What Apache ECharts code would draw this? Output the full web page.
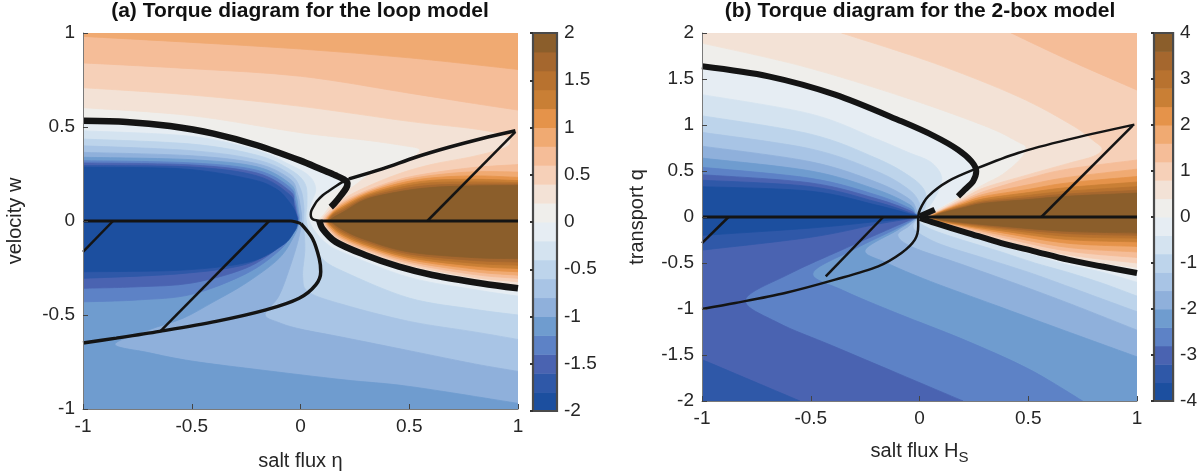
<!DOCTYPE html>
<html><head><meta charset="utf-8">
<script src="https://cdn.jsdelivr.net/npm/echarts@6/dist/echarts.min.js"></script>
<style>html,body{margin:0;padding:0;background:#fff}#c{width:1200px;height:476px}</style>
</head><body><div id="c"></div>
<script>
// ---------- colour bands (shared) ----------
const BAND_COLORS = ['#1c4f9f','#2f58a8','#4a63b1','#5d82c6','#6f9ccf','#8fb0db','#a8c4e5','#bdd4eb','#d4e3f0','#e6edf3',
  '#efeeeb','#f3e2d6','#f6d0b8','#f5bd98','#f0aa72','#e5934a','#c97f35','#b8722f','#a5672e','#8b5e2b'];
const A_LEVELS = [-2,-1.8,-1.6,-1.4,-1.2,-1,-0.8,-0.6,-0.4,-0.2,0,0.2,0.4,0.6,0.8,1,1.2,1.4,1.6,1.8,2];
const B_LEVELS = [-4,-3.6,-3.2,-2.8,-2.4,-2,-1.6,-1.2,-0.8,-0.4,0,0.4,0.8,1.2,1.6,2,2.4,2.8,3.2,3.6,4];

// ---------- panel (a): contour lines of the torque field [eta, w] ----------
const A_T02 = [[-1,0.603],[-0.5,0.56],[0,0.47],[0.3,0.43],[0.48,0.40],[0.545,0.383],[0.53,0.35],[0.45,0.31],[0.33,0.255],[0.25,0.19],[0.2,0.15],[0.15,0.1],[0.11,0.04],[0.085,0],[0.1,-0.04],[0.15,-0.088],[0.2,-0.125],[0.3,-0.172],[0.5,-0.245],[0.8,-0.315],[1,-0.34]];
const A_T04 = [[-1,0.709],[-0.5,0.67],[0,0.61],[0.5,0.53],[0.8,0.49],[0.93,0.46],[0.965,0.43],[0.94,0.39],[0.8,0.345],[0.6,0.3],[0.45,0.25],[0.3,0.18],[0.2,0.12],[0.15,0.075],[0.1,0],[0.15,-0.078],[0.2,-0.115],[0.3,-0.163],[0.5,-0.235],[0.8,-0.3],[1,-0.323]];
const A_T06_TOP = [[-1,0.841],[-0.5,0.81],[0,0.77],[0.5,0.68],[0.8,0.625],[1,0.59]];
const A_T06 = [[1,0.30],[0.8,0.285],[0.6,0.255],[0.45,0.22],[0.3,0.16],[0.2,0.105],[0.15,0.06],[0.108,0],[0.15,-0.068],[0.2,-0.106],[0.3,-0.154],[0.5,-0.225],[0.8,-0.285],[1,-0.305]];
const A_T08_TOP = [[-1,0.982],[-0.5,0.95],[0,0.915],[0.5,0.868],[1,0.806]];
const A_T08 = [[1,0.26],[0.8,0.262],[0.6,0.242],[0.45,0.21],[0.3,0.152],[0.2,0.096],[0.15,0.054],[0.115,0],[0.15,-0.058],[0.2,-0.097],[0.3,-0.145],[0.5,-0.215],[0.8,-0.27],[1,-0.288]];
const A_T10 = [[1,0.232],[0.8,0.24],[0.6,0.229],[0.45,0.199],[0.3,0.145],[0.2,0.087],[0.15,0.048],[0.12,0],[0.15,-0.048],[0.2,-0.088],[0.3,-0.136],[0.5,-0.205],[0.8,-0.255],[1,-0.27]];
const A_T12 = [[1,0.215],[0.8,0.222],[0.6,0.216],[0.45,0.188],[0.3,0.137],[0.2,0.078],[0.15,0.042],[0.125,0],[0.15,-0.038],[0.2,-0.078],[0.3,-0.127],[0.5,-0.195],[0.8,-0.24],[1,-0.253]];
const A_T14 = [[1,0.204],[0.8,0.208],[0.6,0.203],[0.45,0.177],[0.3,0.13],[0.2,0.069],[0.15,0.037],[0.128,0],[0.15,-0.03],[0.2,-0.069],[0.3,-0.118],[0.5,-0.185],[0.8,-0.225],[1,-0.235]];
const A_T16 = [[1,0.196],[0.8,0.196],[0.6,0.19],[0.45,0.166],[0.3,0.122],[0.2,0.06],[0.15,0.031],[0.132,0],[0.15,-0.02],[0.2,-0.06],[0.3,-0.109],[0.5,-0.175],[0.8,-0.21],[1,-0.218]];
const A_T18 = [[1,0.189],[0.8,0.187],[0.6,0.178],[0.45,0.155],[0.3,0.115],[0.2,0.05],[0.15,0.018],[0.135,0],[0.15,-0.012],[0.2,-0.05],[0.3,-0.1],[0.5,-0.165],[0.8,-0.195],[1,-0.2]];
const A_T00 = [[-1,0.533],[-0.8,0.527],[-0.6,0.505],[-0.4,0.465],[-0.2,0.403],[0,0.321],[0.1,0.272],[0.16,0.243],[0.2,0.221],[0.218,0.205],[0.17,0.175],[0.11,0.135],[0.065,0.083],[0.047,0.034],[0.06,0.008],[0.086,0],[0.101,-0.041],[0.162,-0.111],[0.3,-0.182],[0.453,-0.243],[0.606,-0.287],[0.835,-0.332],[1,-0.358]];
const A_TM02 = [[-1,0.48],[-0.5,0.45],[-0.2,0.375],[-0.05,0.3],[0.04,0.24],[0.07,0.17],[0.05,0.1],[0.035,0.04],[0.04,0],[0.07,-0.06],[0.12,-0.12],[0.2,-0.17],[0.5,-0.3],[0.8,-0.365],[1,-0.40]];
const A_TM04 = [[-1,0.436],[-0.5,0.409],[-0.2,0.35],[-0.05,0.275],[0.02,0.2],[0.03,0.1],[0.025,0.03],[0.03,-0.02],[0.05,-0.1],[0.1,-0.2],[0.2,-0.27],[0.5,-0.41],[0.8,-0.47],[1,-0.50]];
const A_TM06 = [[-1,0.40],[-0.5,0.374],[-0.2,0.325],[-0.05,0.25],[0,0.17],[0.015,0.08],[0.015,0.02],[0.015,-0.03],[0.02,-0.15],[0.01,-0.3],[0.04,-0.38],[0.2,-0.446],[0.5,-0.534],[0.8,-0.59],[1,-0.63]];
const A_TM08 = [[-1,0.365],[-0.5,0.347],[-0.2,0.305],[-0.05,0.225],[-0.015,0.15],[0,0.07],[0.005,0],[-0.01,-0.1],[-0.05,-0.25],[-0.1,-0.4],[-0.163,-0.497],[-0.1,-0.54],[0,-0.575],[0.2,-0.62],[0.5,-0.69],[0.8,-0.76],[1,-0.80]];
const A_TM10 = [[-1,0.339],[-0.5,0.326],[-0.2,0.288],[-0.05,0.2],[-0.02,0.13],[-0.01,0.06],[-0.005,0],[-0.03,-0.08],[-0.1,-0.2],[-0.25,-0.33],[-0.4,-0.43],[-0.54,-0.517],[-0.7,-0.58],[-0.853,-0.656],[-0.7,-0.70],[-0.5,-0.745],[-0.2,-0.79],[0.2,-0.845],[0.5,-0.88],[1,-0.97]];
const A_TM12 = [[-1,0.321],[-0.5,0.309],[-0.2,0.27],[-0.05,0.18],[-0.025,0.11],[-0.015,0.05],[-0.01,0],[-0.04,-0.07],[-0.1,-0.16],[-0.25,-0.28],[-0.5,-0.39],[-0.75,-0.42],[-1,-0.43]];
const A_TM14 = [[-1,0.309],[-0.5,0.298],[-0.2,0.255],[-0.05,0.16],[-0.03,0.1],[-0.018,0.04],[-0.013,0],[-0.045,-0.065],[-0.1,-0.14],[-0.25,-0.25],[-0.5,-0.33],[-0.75,-0.35],[-1,-0.358]];
const A_TM16 = [[-1,0.295],[-0.5,0.287],[-0.2,0.24],[-0.05,0.14],[-0.03,0.08],[-0.02,0.03],[-0.015,-0.005],[-0.05,-0.07],[-0.1,-0.13],[-0.25,-0.23],[-0.55,-0.28],[-1,-0.305]];
const A_TM18 = [[-1,0.286],[-0.541,0.277],[-0.235,0.224],[-0.113,0.171],[-0.052,0.101],[-0.021,0.039],[-0.014,-0.014],[-0.029,-0.058],[-0.083,-0.129],[-0.235,-0.217],[-0.541,-0.261],[-1,-0.27]];

// ---------- panel (a): black curves ----------
const A_THICK_UP = [[-1,0.533],[-0.8,0.527],[-0.6,0.505],[-0.4,0.465],[-0.2,0.403],[0,0.321],[0.1,0.272],[0.16,0.243],[0.2,0.221],[0.216,0.2],[0.21,0.175],[0.185,0.135],[0.155,0.092],[0.139,0.074]];
const A_THIN_MID = [[0.223,0.224],[0.19,0.205],[0.162,0.185],[0.13,0.16],[0.101,0.136],[0.075,0.105],[0.063,0.083],[0.05,0.055],[0.047,0.034],[0.05,0.018],[0.058,0.009],[0.072,0.004],[0.086,0.002]];
const A_THICK_LOW = [[0.086,0.004],[0.101,-0.041],[0.162,-0.111],[0.3,-0.182],[0.453,-0.243],[0.606,-0.287],[0.835,-0.332],[1,-0.358]];
const A_DOT_UP = [[0.223,0.224],[0.376,0.277],[0.529,0.339],[0.682,0.392],[0.835,0.439],[0.988,0.48]];
const A_DOT_LOW = [[0.002,-0.014],[0.055,-0.093],[0.086,-0.199],[0.093,-0.27],[0.07,-0.34],[-0.006,-0.411],[-0.159,-0.473],[-0.388,-0.534],[-0.648,-0.587],[-0.847,-0.623],[-1,-0.649]];
const A_HLINE_L = [[-1,0],[-0.044,0],[0.002,-0.014]];
const A_HLINE_R = [[0.086,0],[1,0]];
const A_SLANT_1 = [[-0.862,0],[-1,-0.164]];
const A_SLANT_2 = [[-0.144,0],[-0.645,-0.587]];
const A_SLANT_3 = [[0.583,0],[0.988,0.474]];

// ---------- panel (b): contour lines [H_S, q] ----------
const B_T04 = [[-1,1.89],[-0.54,1.64],[-0.08,1.31],[0.3,0.99],[0.45,0.82],[0.49,0.75],[0.46,0.62],[0.38,0.46],[0.3,0.36],[0.2,0.23],[0.15,0.16],[0.08,0.075],[0.025,0],[0.07,-0.055],[0.2,-0.146],[0.376,-0.265],[0.68,-0.44],[1,-0.55]];
const B_T08 = [[-0.358,2],[0.07,1.67],[0.453,1.31],[0.7,1.0],[0.8,0.83],[0.84,0.74],[0.8,0.66],[0.68,0.58],[0.5,0.46],[0.3,0.32],[0.2,0.2],[0.1,0.08],[0.035,0],[0.07,-0.05],[0.2,-0.133],[0.376,-0.245],[0.68,-0.41],[1,-0.5]];
const B_T12_TOP = [[0.422,2],[0.682,1.71],[1,1.38]];
const B_T12 = [[1,0.62],[0.68,0.52],[0.5,0.42],[0.3,0.28],[0.2,0.18],[0.1,0.072],[0.04,0],[0.1,-0.06],[0.2,-0.12],[0.376,-0.22],[0.68,-0.37],[1,-0.44]];
const B_T16 = [[1,0.52],[0.68,0.43],[0.5,0.35],[0.3,0.25],[0.2,0.165],[0.1,0.066],[0.045,0],[0.1,-0.055],[0.2,-0.108],[0.376,-0.195],[0.68,-0.33],[1,-0.38]];
const B_T20 = [[1,0.44],[0.68,0.37],[0.5,0.3],[0.3,0.225],[0.2,0.15],[0.1,0.06],[0.05,0],[0.1,-0.05],[0.2,-0.097],[0.376,-0.17],[0.68,-0.285],[1,-0.32]];
const B_T24 = [[1,0.38],[0.68,0.32],[0.5,0.265],[0.3,0.2],[0.2,0.135],[0.1,0.055],[0.055,0],[0.1,-0.045],[0.2,-0.087],[0.376,-0.15],[0.68,-0.245],[1,-0.27]];
const B_T28 = [[1,0.33],[0.68,0.28],[0.5,0.235],[0.3,0.18],[0.2,0.12],[0.1,0.05],[0.06,0],[0.1,-0.04],[0.2,-0.077],[0.376,-0.13],[0.68,-0.21],[1,-0.23]];
const B_T32 = [[1,0.29],[0.68,0.25],[0.5,0.21],[0.3,0.165],[0.2,0.11],[0.1,0.045],[0.065,0],[0.1,-0.035],[0.2,-0.068],[0.376,-0.115],[0.68,-0.18],[1,-0.2]];
const B_T36 = [[1,0.26],[0.68,0.225],[0.5,0.19],[0.3,0.15],[0.2,0.1],[0.1,0.04],[0.07,0],[0.1,-0.03],[0.2,-0.06],[0.376,-0.1],[0.68,-0.156],[1,-0.174]];
const B_T00 = [[-1,1.638],[-0.694,1.529],[-0.388,1.33],[-0.083,1.04],[0.07,0.877],[0.177,0.732],[0.239,0.605],[0.261,0.496],[0.246,0.388],[0.208,0.297],[0.177,0.225],[0.12,0.14],[0.06,0.06],[0.01,0.005],[0.07,-0.065],[0.223,-0.174],[0.376,-0.283],[0.529,-0.373],[0.682,-0.464],[0.835,-0.536],[1,-0.609]];
const B_TM04 = [[-1,1.33],[-0.5,1.12],[-0.2,0.85],[-0.05,0.7],[0.05,0.6],[0.1,0.45],[0.09,0.3],[0.05,0.13],[0.005,0],[0.07,-0.1],[0.223,-0.21],[0.376,-0.32],[0.53,-0.42],[0.68,-0.52],[0.84,-0.6],[1,-0.71]];
const B_TM08 = [[-1,1.1],[-0.5,0.9],[-0.2,0.64],[-0.05,0.45],[0.02,0.3],[0.03,0.15],[0.01,0.03],[0,0],[0,-0.06],[0.07,-0.15],[0.223,-0.27],[0.376,-0.38],[0.53,-0.5],[0.68,-0.6],[0.84,-0.72],[1,-0.86]];
const B_TM12 = [[-1,0.92],[-0.5,0.74],[-0.2,0.5],[-0.05,0.3],[0,0.15],[0,0.04],[-0.005,0],[-0.03,-0.1],[0,-0.18],[0.1,-0.3],[0.3,-0.45],[0.5,-0.6],[0.7,-0.77],[1,-1.03]];
const B_TM16 = [[-1,0.77],[-0.5,0.6],[-0.2,0.38],[-0.05,0.2],[-0.015,0.08],[-0.008,0],[-0.05,-0.1],[-0.1,-0.2],[-0.03,-0.33],[0.2,-0.52],[0.45,-0.73],[0.7,-0.95],[1,-1.23]];
const B_TM20 = [[-1,0.64],[-0.5,0.5],[-0.2,0.3],[-0.05,0.14],[-0.02,0.05],[-0.01,0],[-0.1,-0.14],[-0.25,-0.36],[-0.15,-0.5],[0.05,-0.7],[0.35,-0.96],[0.65,-1.22],[1,-1.52]];
const B_TM24 = [[-1,0.54],[-0.5,0.42],[-0.2,0.24],[-0.05,0.1],[-0.02,0.035],[-0.012,0],[-0.1,-0.12],[-0.3,-0.35],[-0.49,-0.61],[-0.35,-0.8],[-0.1,-1.05],[0.2,-1.33],[0.5,-1.65],[0.75,-2]];
const B_TM28 = [[-1,0.46],[-0.5,0.37],[-0.2,0.2],[-0.05,0.075],[-0.02,0.025],[-0.014,0],[-0.1,-0.09],[-0.35,-0.35],[-0.6,-0.62],[-0.8,-0.9],[-0.65,-1.15],[-0.4,-1.4],[-0.1,-1.7],[0.2,-2]];
const B_TM32 = [[-1,0.40],[-0.5,0.33],[-0.2,0.165],[-0.05,0.05],[-0.016,0],[-0.2,-0.08],[-0.5,-0.22],[-1,-0.36]];
const B_TM32_LOW = [[-1,-1.55],[-0.8,-1.75],[-0.55,-2]];
const B_TM36 = [[-1,0.33],[-0.5,0.28],[-0.2,0.13],[-0.05,0.035],[-0.018,0],[-0.2,-0.05],[-0.5,-0.12],[-1,-0.2]];

// ---------- panel (b): black curves ----------
const B_THICK_UP = [[-1,1.638],[-0.694,1.529],[-0.388,1.33],[-0.083,1.04],[0.07,0.877],[0.177,0.732],[0.239,0.605],[0.261,0.496],[0.246,0.388],[0.208,0.297],[0.177,0.225]];
const B_THIN = [[0.988,1.004],[0.682,0.841],[0.453,0.696],[0.269,0.533],[0.131,0.388],[0.04,0.225],[0.002,0.08],[-0.006,-0.011],[-0.006,-0.101],[-0.021,-0.246],[-0.083,-0.391],[-0.19,-0.536],[-0.388,-0.681],[-0.618,-0.826],[-0.847,-0.935],[-1,-1.0]];
const B_THICK_LOW = [[0.002,-0.011],[0.07,-0.065],[0.223,-0.174],[0.376,-0.283],[0.529,-0.373],[0.682,-0.464],[0.835,-0.536],[1,-0.609]];
const B_THICK_STUB = [[0.002,0.007],[0.07,0.08]];
const B_HLINE = [[-1,0],[1,0]];
const B_SLANT_1 = [[-0.878,0],[-1,-0.283]];
const B_SLANT_2 = [[-0.167,0],[-0.431,-0.645]];
const B_SLANT_3 = [[0.56,0],[0.98,0.993]];

// ---------- region definitions (contour + closing corners of the plot range) ----------
const A_REGIONS = [
  {c: [], k: [[-1,1],[1,1],[1,-1],[-1,-1]], lv: 0, ge: true},
  {c: A_T02, k: [[1,1],[-1,1]], lv: 0.2, ge: true},
  {c: A_T04, k: [[1,1],[-1,1]], lv: 0.4, ge: true},
  {c: A_T06_TOP, k: [[1,1],[-1,1]], lv: 0.6, ge: true},
  {c: A_T06, k: [], lv: 0.6, ge: true},
  {c: A_T08_TOP, k: [[1,1],[-1,1]], lv: 0.8, ge: true},
  {c: A_T08, k: [], lv: 0.8, ge: true},
  {c: A_T10, k: [], lv: 1, ge: true},
  {c: A_T12, k: [], lv: 1.2, ge: true},
  {c: A_T14, k: [], lv: 1.4, ge: true},
  {c: A_T16, k: [], lv: 1.6, ge: true},
  {c: A_T18, k: [], lv: 1.8, ge: true},
  {c: A_T00, k: [[1,-1],[-1,-1]], lv: 0, ge: false},
  {c: A_TM02, k: [[1,-1],[-1,-1]], lv: -0.2, ge: false},
  {c: A_TM04, k: [[1,-1],[-1,-1]], lv: -0.4, ge: false},
  {c: A_TM06, k: [[1,-1],[-1,-1]], lv: -0.6, ge: false},
  {c: A_TM08, k: [[1,-1],[-1,-1]], lv: -0.8, ge: false},
  {c: A_TM10, k: [[1,-1],[-1,-1]], lv: -1, ge: false},
  {c: A_TM12, k: [], lv: -1.2, ge: false},
  {c: A_TM14, k: [], lv: -1.4, ge: false},
  {c: A_TM16, k: [], lv: -1.6, ge: false},
  {c: A_TM18, k: [], lv: -1.8, ge: false}
];
const B_REGIONS = [
  {c: [], k: [[-1,2],[1,2],[1,-2],[-1,-2]], lv: 0, ge: true},
  {c: B_T04, k: [[1,2],[-1,2]], lv: 0.4, ge: true},
  {c: B_T08, k: [[1,2]], lv: 0.8, ge: true},
  {c: B_T12_TOP, k: [[1,2]], lv: 1.2, ge: true},
  {c: B_T12, k: [], lv: 1.2, ge: true},
  {c: B_T16, k: [], lv: 1.6, ge: true},
  {c: B_T20, k: [], lv: 2, ge: true},
  {c: B_T24, k: [], lv: 2.4, ge: true},
  {c: B_T28, k: [], lv: 2.8, ge: true},
  {c: B_T32, k: [], lv: 3.2, ge: true},
  {c: B_T36, k: [], lv: 3.6, ge: true},
  {c: B_T00, k: [[1,-2],[-1,-2]], lv: 0, ge: false},
  {c: B_TM04, k: [[1,-2],[-1,-2]], lv: -0.4, ge: false},
  {c: B_TM08, k: [[1,-2],[-1,-2]], lv: -0.8, ge: false},
  {c: B_TM12, k: [[1,-2],[-1,-2]], lv: -1.2, ge: false},
  {c: B_TM16, k: [[1,-2],[-1,-2]], lv: -1.6, ge: false},
  {c: B_TM20, k: [[1,-2],[-1,-2]], lv: -2, ge: false},
  {c: B_TM24, k: [[-1,-2]], lv: -2.4, ge: false},
  {c: B_TM28, k: [[-1,-2]], lv: -2.8, ge: false},
  {c: B_TM32, k: [], lv: -3.2, ge: false},
  {c: B_TM32_LOW, k: [[-1,-2]], lv: -3.2, ge: false},
  {c: B_TM36, k: [], lv: -3.6, ge: false}
];

// ---------- rendering ----------
const FONT = '"Liberation Sans", Arial, Helvetica, sans-serif';
const TXT = '#262626';

function crPath(P) {
  let d = 'M' + P[0][0] + ' ' + P[0][1];
  for (let i = 0; i < P.length - 1; i++) {
    const p0 = P[Math.max(i - 1, 0)], p1 = P[i], p2 = P[i + 1], p3 = P[Math.min(i + 2, P.length - 1)];
    const c1x = p1[0] + (p2[0] - p0[0]) / 6, c1y = p1[1] + (p2[1] - p0[1]) / 6;
    const c2x = p2[0] - (p3[0] - p1[0]) / 6, c2y = p2[1] - (p3[1] - p1[1]) / 6;
    d += ' C' + c1x + ' ' + c1y + ' ' + c2x + ' ' + c2y + ' ' + p2[0] + ' ' + p2[1];
  }
  return d;
}
function bandOf(levels, lv, ge) {
  const i = levels.findIndex(v => Math.abs(v - lv) < 1e-9);
  return ge ? i : i - 1;
}
function regionSeries(axisIdx, regions, levels) {
  return {
    type: 'custom', xAxisIndex: axisIdx, yAxisIndex: axisIdx, silent: true, clip: true, z: 1,
    data: regions.map((r, i) => i),
    renderItem: function (params, api) {
      const r = regions[params.dataIndex];
      const px = r.c.map(p => api.coord(p));
      const ks = r.k.map(p => api.coord(p));
      let d;
      if (px.length) { d = crPath(px); ks.forEach(p => { d += ' L' + p[0] + ' ' + p[1]; }); }
      else { d = 'M' + ks[0][0] + ' ' + ks[0][1]; ks.slice(1).forEach(p => { d += ' L' + p[0] + ' ' + p[1]; }); }
      d += ' Z';
      const col = BAND_COLORS[bandOf(levels, r.lv, r.ge)];
      return {type: 'path', shape: {pathData: d}, style: {fill: col, stroke: col, lineWidth: 0.8}};
    }
  };
}
function colorbarSeries(axisIdx, levels) {
  const n = levels.length - 1;
  const idx = []; for (let i = 0; i <= n; i++) idx.push(i);
  return {
    type: 'custom', xAxisIndex: axisIdx, yAxisIndex: axisIdx, silent: true, z: 2,
    data: idx,
    renderItem: function (params, api) {
      const i = params.dataIndex;
      if (i < n) {
        const a = api.coord([0, levels[i + 1]]), b = api.coord([1, levels[i]]);
        return {type: 'rect', shape: {x: a[0], y: a[1], width: b[0] - a[0], height: b[1] - a[1] + 0.5},
          style: {fill: BAND_COLORS[i]}};
      }
      const a = api.coord([0, levels[n]]), b = api.coord([1, levels[0]]);
      return {type: 'rect', z2: 10, shape: {x: a[0], y: a[1], width: b[0] - a[0], height: b[1] - a[1]},
        style: {fill: 'none', stroke: '#4a4a4a', lineWidth: 2.2}};
    }
  };
}
function lineS(axisIdx, data, w) {
  return {type: 'line', xAxisIndex: axisIdx, yAxisIndex: axisIdx, data: data, showSymbol: false, symbol: 'none',
    smooth: 0.3, silent: true, z: 5, lineStyle: {color: '#141414', width: w}};
}

const axisCommon = {
  type: 'value', z: 10, splitLine: {show: false},
  axisLine: {show: true, onZero: false, lineStyle: {color: '#7a7a7a', width: 1}},
  axisTick: {show: true, inside: true, length: 5, lineStyle: {color: '#444'}},
  axisLabel: {fontSize: 19, color: TXT, fontFamily: FONT, margin: 8},
  nameTextStyle: {fontSize: 20, color: TXT, fontFamily: FONT}
};
const cbAxis = {
  type: 'value', position: 'right', z: 10, splitLine: {show: false},
  axisLine: {show: false},
  axisTick: {show: true, inside: true, length: 3, lineStyle: {color: '#333', width: 2}},
  axisLabel: {fontSize: 19, color: TXT, fontFamily: FONT, margin: 7}
};

const option = {
  animation: false,
  backgroundColor: '#fff',
  title: [
    {text: '(a) Torque diagram for the loop model', left: 300, top: 1, textAlign: 'center', padding: 0,
     textStyle: {fontSize: 21, fontWeight: 'bold', color: '#111', fontFamily: FONT}},
    {text: '(b) Torque diagram for the 2-box model', left: 920, top: 1, textAlign: 'center', padding: 0,
     textStyle: {fontSize: 21, fontWeight: 'bold', color: '#111', fontFamily: FONT}}
  ],
  grid: [
    {left: 83, top: 33, width: 435, height: 378},
    {left: 533, top: 33, width: 24, height: 378},
    {left: 702, top: 33, width: 435, height: 368},
    {left: 1154, top: 33, width: 24, height: 368}
  ],
  xAxis: [
    Object.assign({}, axisCommon, {gridIndex: 0, min: -1, max: 1, interval: 0.5,
      name: 'salt flux η', nameLocation: 'middle', nameGap: 42}),
    {gridIndex: 1, type: 'value', min: 0, max: 1, show: false},
    Object.assign({}, axisCommon, {gridIndex: 2, min: -1, max: 1, interval: 0.5,
      name: '{m|salt flux H}{s|S}', nameLocation: 'middle', nameGap: 36,
      nameTextStyle: {fontSize: 20, color: TXT, fontFamily: FONT,
        rich: {m: {fontSize: 20, color: TXT, fontFamily: FONT}, s: {fontSize: 15, color: TXT, fontFamily: FONT, padding: [13, 0, 0, 0]}}}}),
    {gridIndex: 3, type: 'value', min: 0, max: 1, show: false}
  ],
  yAxis: [
    Object.assign({}, axisCommon, {gridIndex: 0, min: -1, max: 1, interval: 0.5,
      name: 'velocity w', nameLocation: 'middle', nameGap: 58}),
    Object.assign({}, cbAxis, {gridIndex: 1, min: -2, max: 2, interval: 0.5}),
    Object.assign({}, axisCommon, {gridIndex: 2, min: -2, max: 2, interval: 0.5,
      name: 'transport q', nameLocation: 'middle', nameGap: 55}),
    Object.assign({}, cbAxis, {gridIndex: 3, min: -4, max: 4, interval: 1})
  ],
  series: [
    regionSeries(0, A_REGIONS, A_LEVELS),
    colorbarSeries(1, A_LEVELS),
    regionSeries(2, B_REGIONS, B_LEVELS),
    colorbarSeries(3, B_LEVELS),
    lineS(0, A_HLINE_L, 3), lineS(0, A_HLINE_R, 3),
    lineS(0, A_SLANT_1, 2.5), lineS(0, A_SLANT_2, 2.5), lineS(0, A_SLANT_3, 2.5),
    lineS(0, A_DOT_UP, 3.5), lineS(0, A_DOT_LOW, 3.5),
    lineS(0, A_THIN_MID, 2.5),
    lineS(0, A_THICK_UP, 6.5), lineS(0, A_THICK_LOW, 6.5),
    lineS(2, B_HLINE, 3),
    lineS(2, B_SLANT_1, 2.5), lineS(2, B_SLANT_2, 2.5), lineS(2, B_SLANT_3, 2.5),
    lineS(2, B_THIN, 2.5),
    lineS(2, B_THICK_UP, 6), lineS(2, B_THICK_LOW, 6), lineS(2, B_THICK_STUB, 6)
  ]
};
const chart = echarts.init(document.getElementById('c'), null, {renderer: 'canvas'});
chart.setOption(option);
</script></body></html>
